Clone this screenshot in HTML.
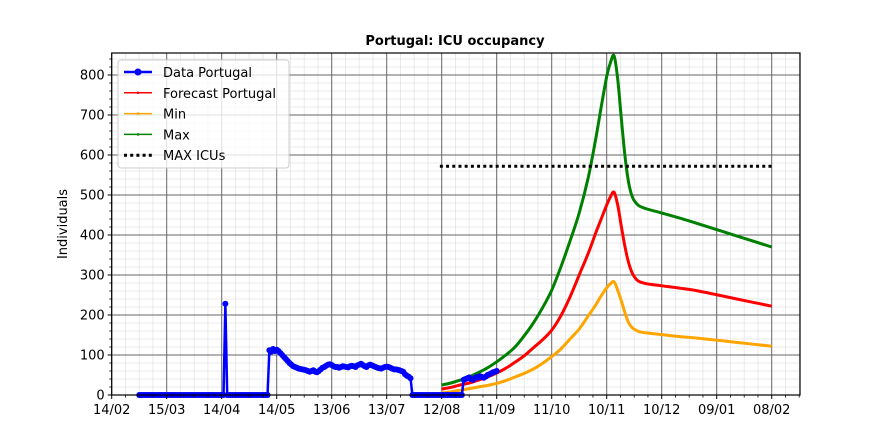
<!DOCTYPE html>
<html><head><meta charset="utf-8"><style>
body{margin:0;background:#fff;}
svg{display:block;font-family:"DejaVu Sans","Liberation Sans",sans-serif;}
</style></head><body>
<svg id="chart" width="888" height="444" xmlns="http://www.w3.org/2000/svg">
<rect width="888" height="444" fill="#fff"/>
<text x="455" y="45" text-anchor="middle" font-size="13" font-weight="bold">Portugal: ICU occupancy</text>
<text transform="translate(67,224) rotate(-90)" text-anchor="middle" font-size="13">Individuals</text>
<g id="grid"></g><g id="series"></g><g id="axes"></g><g id="legend"></g>
</svg>
<script>
const xTickLabels=["14/02","15/03","14/04","14/05","13/06","13/07","12/08","11/09","11/10","10/11","10/12","09/01","08/02"];
const yTickValues=[0,100,200,300,400,500,600,700,800];
const dataDays=[];for(let d=15;d<=210;d++)dataDays.push(d);
const dataVals=[0,0,0,0,0,0,0,0,0,0,0,0,0,0,0,0,0,0,0,0,0,0,0,0,0,0,0,0,0,0,0,0,0,0,0,0,0,0,0,0,0,0,0,0,0,0,0,
228,
0,0,0,0,0,0,0,0,0,0,0,0,0,0,0,0,0,0,0,0,0,0,0,
112,108,115,110,113,110,105,100,95,90,85,80,76,72,70,68,66,65,64,63,62,60,58,60,62,58,57,60,64,68,70,73,76,77,75,72,70,70,68,70,72,71,70,69,72,73,72,70,74,76,78,75,72,70,74,76,74,72,70,68,67,66,68,70,71,70,68,66,64,64,63,62,60,58,52,48,46,42,
0,0,0,0,0,0,0,0,0,0,0,0,0,0,0,0,0,0,0,0,0,0,0,0,0,0,0,0,
38,40,42,44,40,38,42,45,44,47,45,43,46,50,52,54,57,58,60];
const fcDays=[180,185,190,195,200,205,210,215,220,225,230,235,240,245,250,255,260,264,267,270,272,274,276,278,280,282,284,286,288,292,300,310,320,340,360];
const maxVals=[25,30,37,45,56,68,83,100,120,148,180,218,262,320,385,455,545,640,720,796,830,848,790,690,596,530,495,480,472,465,455,442,428,399,370];
const fcVals=[15,19,25,30,37,45,55,67,82,98,118,138,162,198,245,300,355,405,440,475,495,507,475,421,370,330,304,290,283,278,273,267,260,241,222];
const minVals=[5,8,12,16,20,24,29,36,45,54,65,79,96,115,140,165,198,225,248,268,278,283,262,235,205,180,168,162,158,155,151,146,142,132,122];
const maxIcu=572, maxIcuDays=[179,360];

const NS="http://www.w3.org/2000/svg";
const L=111.7,R=800,T=53,B=395,dayPx=55/30;
const X=d=>L+d*dayPx, Y=v=>B-v*0.4;
function mk(tag,attrs,parent){const e=document.createElementNS(NS,tag);for(const k in attrs)e.setAttribute(k,attrs[k]);parent.appendChild(e);return e;}
const grid=document.getElementById('grid'),axes=document.getElementById('axes'),ser=document.getElementById('series'),leg=document.getElementById('legend');
for(let d=7.5;X(d)<R;d+=7.5){if(d%30===0)continue;const l=mk('line',{x1:X(d),x2:X(d),y1:T,y2:B,stroke:'#e4e4e4','stroke-width':0.8},grid);

mk('line',{x1:X(d),x2:X(d),y1:B,y2:B+2.5,stroke:'#000','stroke-width':0.8},axes);}
for(let v=20;Y(v)>T;v+=20){if(v%100===0)continue;const l=mk('line',{x1:L,x2:R,y1:Y(v),y2:Y(v),stroke:'#e4e4e4','stroke-width':0.8},grid);

mk('line',{x1:L-2.5,x2:L,y1:Y(v),y2:Y(v),stroke:'#000','stroke-width':0.8},axes);}
xTickLabels.forEach((s,i)=>{const x=X(i*30);
const l=mk('line',{x1:x,x2:x,y1:T,y2:B,stroke:'#666','stroke-width':1},grid);

mk('line',{x1:x,x2:x,y1:B,y2:B+4,stroke:'#000','stroke-width':1},axes);
const t=mk('text',{x:x,y:B+19,'text-anchor':'middle','font-size':13},axes);t.textContent=s;
});
yTickValues.forEach(v=>{const y=Y(v);
if(v>0){const l=mk('line',{x1:L,x2:R,y1:y,y2:y,stroke:'#666','stroke-width':1},grid);
}
mk('line',{x1:L-4,x2:L,y1:y,y2:y,stroke:'#000','stroke-width':1},axes);
const t=mk('text',{x:L-7,y:y+4.5,'text-anchor':'end','font-size':13},axes);t.textContent=v;
});
const frame=mk('rect',{x:L,y:T,width:R-L,height:B-T,fill:'none',stroke:'#000','stroke-width':1.2},axes);

function line(days,vals,color,w,name){
 const pts=days.map((d,i)=>[X(d),Y(vals[i])]);
 let dstr='M'+pts[0][0]+','+pts[0][1];
 for(let i=0;i<pts.length-1;i++){const p0=pts[Math.max(0,i-1)],p1=pts[i],p2=pts[i+1],p3=pts[Math.min(pts.length-1,i+2)];
  const c1=[p1[0]+(p2[0]-p0[0])/6,p1[1]+(p2[1]-p0[1])/6],c2=[p2[0]-(p3[0]-p1[0])/6,p2[1]-(p3[1]-p1[1])/6];
  dstr+=`C${c1[0]},${c1[1]} ${c2[0]},${c2[1]} ${p2[0]},${p2[1]}`;}
 const p=mk('path',{d:dstr,fill:'none',stroke:color,'stroke-width':w,'stroke-linejoin':'round'},ser);
 }
line(fcDays,minVals,'#ffa500',3,'min-line');
line(fcDays,fcVals,'#ff0000',3,'forecast-line');
line(fcDays,maxVals,'#008000',3,'max-line');
const icu=mk('line',{x1:X(maxIcuDays[0]),x2:X(maxIcuDays[1]),y1:Y(maxIcu),y2:Y(maxIcu),stroke:'#000','stroke-width':3,'stroke-dasharray':'3,3.2'},ser);

const dp=mk('polyline',{points:dataDays.map((d,i)=>X(d)+','+Y(dataVals[i])).join(' '),fill:'none',stroke:'#0000ff','stroke-width':2.5,'stroke-linejoin':'round'},ser);

dataDays.forEach((d,i)=>{const c=mk('circle',{cx:X(d),cy:Y(dataVals[i]),r:3,fill:'#0000ff'},ser);
});
const lb=mk('rect',{x:118,y:60,width:171,height:108,rx:3,fill:'#fff','fill-opacity':0.8,stroke:'#ccc'},leg);

const entries=[["Data Portugal","#0000ff",2.5],["Forecast Portugal","#ff0000",1.5],["Min","#ffa500",1.5],["Max","#008000",1.5],["MAX ICUs","#000",3]];
entries.forEach((e,i)=>{const y=72+i*20.8;
const g=mk('g',{},leg);
if(i===4)mk('line',{x1:124,x2:152,y1:y,y2:y,stroke:'#000','stroke-width':3,'stroke-dasharray':'3,3.2'},g);
else{mk('line',{x1:124,x2:152,y1:y,y2:y,stroke:e[1],'stroke-width':e[2]},g);mk('circle',{cx:138,cy:y,r:i===0?3.5:1.3,fill:e[1]},g);}
const t=mk('text',{x:163,y:y+5,'font-size':13},g);t.textContent=e[0];});
</script>
</body></html>
